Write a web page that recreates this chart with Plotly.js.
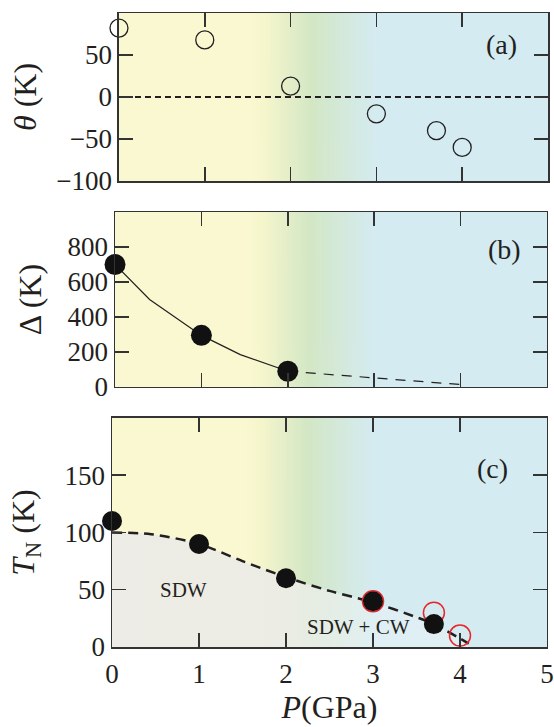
<!DOCTYPE html>
<html>
<head>
<meta charset="utf-8">
<script src="https://cdn.plot.ly/plotly-3.0.1.min.js"></script>
<style>html,body{margin:0;padding:0;background:#fff;}#chart{width:554px;height:727px;}</style>
</head>
<body>
<div id="chart"></div>
<script>
// ---- Data ----
// (a) Curie-Weiss temperature theta vs pressure
const pressureA = [0, 1, 2, 3, 3.7, 4.0];
const thetaK = [82, 68, 13, -20, -40, -60];
const zeroLineX = [0.07, 5];
const zeroLineY = [0, 0];
// (b) gap Delta vs pressure
const pressureB = [0, 1, 2];
const deltaK = [700, 295, 90];
const deltaFitX = [0, 0.4, 1, 1.45, 2];
const deltaFitY = [700, 500, 295, 185, 90];
const deltaExtX = [2, 3, 4];
const deltaExtY = [90, 53, 14];
// (c) T_N vs pressure
const pressureC = [0, 1, 2, 3, 3.7];
const tnK = [110, 90, 60, 40, 20];
const pressureCOpen = [3.0, 3.7, 4.0];
const tnOpenK = [40, 30, 10];
const boundaryX = [0, 0.45, 1, 1.5, 2, 2.5, 3, 3.5, 3.7, 4.1];
const boundaryY = [100, 98.5, 90, 75, 61, 49, 39, 26, 20, 3];
const xTicks = [0, 1, 2, 3, 4, 5];

// ---- background gradient image ----
function gradURL(){
  const c = document.createElement('canvas');
  c.width = 500; c.height = 2;
  const ctx = c.getContext('2d');
  const g = ctx.createLinearGradient(0, 0, 500, 0);
  const stops = [[0,'rgb(249,248,209)'],[1.55,'rgb(249,248,209)'],[1.7,'rgb(246,246,204)'],
                 [2.25,'rgb(211,231,197)'],[2.6,'rgb(212,233,218)'],[3.0,'rgb(212,235,241)'],[5,'rgb(212,235,242)']];
  stops.forEach(s => g.addColorStop(s[0]/5, s[1]));
  ctx.fillStyle = g; ctx.fillRect(0, 0, 500, 2);
  return c.toDataURL();
}
const bg = gradURL();
function bgImage(xa, ya){
  return {source: bg, xref: xa, yref: ya + ' domain', x: 0, y: 1, sizex: 5, sizey: 1,
          xanchor: 'left', yanchor: 'top', sizing: 'stretch', layer: 'below'};
}

const serif = 'Liberation Serif';
const ink = '#231f20';
function sf(size){ return {family: serif, size: size, color: ink}; }

const traces = [
  // (c) grey SDW region with boundary
  {x: boundaryX, y: boundaryY, xaxis: 'x', yaxis: 'y', mode: 'lines', fill: 'tozeroy',
   fillgradient: {type: 'horizontal', colorscale: [[0,'rgba(236,235,230,0.96)'],[0.45,'rgba(236,235,230,0.93)'],[0.72,'rgba(238,244,245,0.45)'],[1,'rgba(238,244,245,0.4)']]},
   line: {color: ink, width: 2.5, dash: '10px,6px', shape: 'spline', smoothing: 0.8}, hoverinfo: 'skip', showlegend: false},
  {x: pressureCOpen, y: tnOpenK, xaxis: 'x', yaxis: 'y', mode: 'markers', cliponaxis: false,
   marker: {size: 21, color: 'rgba(0,0,0,0)', line: {color: '#e8262b', width: 1.5}}, showlegend: false},
  {x: pressureC, y: tnK, xaxis: 'x', yaxis: 'y', mode: 'markers', cliponaxis: false,
   marker: {size: 20, color: '#111', line: {width: 0}}, showlegend: false},
  // (b)
  {x: deltaFitX, y: deltaFitY, xaxis: 'x2', yaxis: 'y2', mode: 'lines', line: {color: ink, width: 1.2}, showlegend: false},
  {x: deltaExtX, y: deltaExtY, xaxis: 'x2', yaxis: 'y2', mode: 'lines', line: {color: ink, width: 1.2, dash: '10px,8px'}, showlegend: false},
  {x: pressureB, y: deltaK, xaxis: 'x2', yaxis: 'y2', mode: 'markers', cliponaxis: false,
   marker: {size: 21, color: '#111', line: {width: 0}}, showlegend: false},
  // (a)
  {x: zeroLineX, y: zeroLineY, xaxis: 'x3', yaxis: 'y3', mode: 'lines', line: {color: ink, width: 2, dash: '6px,4px'}, showlegend: false},
  {x: pressureA, y: thetaK, xaxis: 'x3', yaxis: 'y3', mode: 'markers', cliponaxis: false,
   marker: {size: 18, color: 'rgba(0,0,0,0)', line: {color: ink, width: 1.3}}, showlegend: false}
];

function axis(extra){
  return Object.assign({
    showgrid: false, zeroline: false, showline: true, mirror: 'ticks', linecolor: '#333', linewidth: 1.5,
    ticks: 'inside', ticklen: 14, tickwidth: 1.5, tickcolor: '#333',
    tickfont: sf(27), fixedrange: true
  }, extra);
}

const layout = {
  width: 554, height: 727,
  margin: {l: 112, r: 6, t: 13, b: 80},
  paper_bgcolor: '#fff', plot_bgcolor: 'rgba(0,0,0,0)',
  font: {family: serif, color: ink},
  showlegend: false,
  xaxis: axis({domain: [0, 0.9977], anchor: 'y', range: [0, 5], tickvals: xTicks,
    ticklabelstandoff: 2,
    title: {text: '<i>P</i>(GPa)', font: sf(32), standoff: 4}}),
  xaxis2: axis({domain: [0.0069, 0.9977], anchor: 'y2', range: [0, 5], tickvals: xTicks, showticklabels: false}),
  xaxis3: axis({domain: [0.016, 1], anchor: 'y3', range: [0, 5], tickvals: xTicks, showticklabels: false}),
  yaxis: axis({domain: [0, 0.3612], anchor: 'x', range: [0, 200], tickvals: [0, 50, 100, 150],
    title: {text: '<i>T</i><sub>N</sub> (K)', font: sf(32), standoff: 20}}),
  yaxis2: axis({domain: [0.4101, 0.6861], anchor: 'x2', range: [0, 1000], tickvals: [0, 200, 400, 600, 800],
    title: {text: 'Δ (K)', font: sf(32), standoff: 16}}),
  yaxis3: axis({domain: [0.735, 1], anchor: 'x3', range: [-100, 100], tickvals: [-100, -50, 0, 50, 100],
    title: {text: '<i>θ</i> (K)', font: sf(32), standoff: 10}}),
  images: [bgImage('x', 'y'), bgImage('x2', 'y2'), bgImage('x3', 'y3')],
  annotations: [
    {text: '(a)', xref: 'x3', yref: 'y3', x: 4.46, y: 62, showarrow: false, font: sf(28)},
    {text: '(b)', xref: 'x2', yref: 'y2', x: 4.51, y: 783, showarrow: false, font: sf(28)},
    {text: '(c)', xref: 'x', yref: 'y', x: 4.37, y: 156, showarrow: false, font: sf(28)},
    {text: 'SDW', xref: 'x', yref: 'y', x: 0.82, y: 50, showarrow: false, font: sf(21)},
    {text: 'SDW + CW', xref: 'x', yref: 'y', x: 2.83, y: 17.5, showarrow: false, font: sf(21)}
  ]
};

Plotly.newPlot('chart', traces, layout, {staticPlot: true, displayModeBar: false});
</script>
</body>
</html>
